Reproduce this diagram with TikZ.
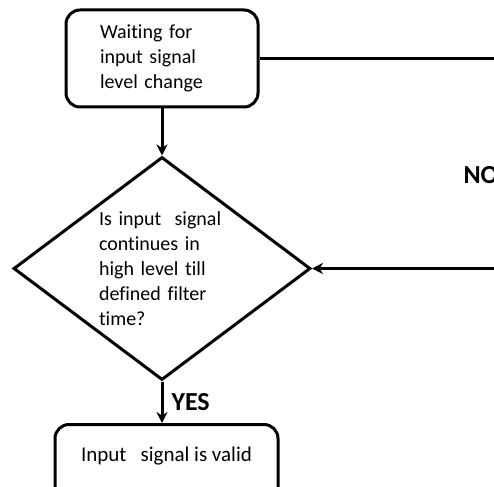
\documentclass[tikz,border=0pt]{standalone}
\usepackage{fontspec}
\setmainfont{Carlito}[Ligatures=CommonOff]
\usetikzlibrary{shapes,arrows.meta,positioning}

\begin{document}
\begin{tikzpicture}[x=1pt, y=-1pt, line width=3pt,
  font=\fontsize{20}{25}\selectfont,
  box/.style={draw, rectangle, rounded corners=14pt, align=left},
  decision/.style={draw, diamond, aspect=1.33, inner sep=0pt, align=left},
  flow/.style={-{Stealth[length=11pt,width=11pt]}},
  answer/.style={font=\fontsize{26}{30}\selectfont\bfseries, inner sep=0pt, anchor=base west}]
\clip (0,0) rectangle (494,486);

% waiting state
\node[box, minimum width=192pt, minimum height=97pt, text width=124pt] (wait) at (162,58.5) {Waiting for\\input signal\\level change};

% filter check
\node[decision, minimum width=297pt, minimum height=223pt, text width=126pt] (check) at (162,268.5) {Is input\ \ signal\\continues in\\high level till\\defined filter\\time?};

% valid state
\node[box, minimum width=223pt, inner ysep=0pt, text height=37pt, text depth=40pt, anchor=north, font=\fontsize{21}{26}\selectfont] (valid) at (166.5,423) {Input\ \ \ signal is valid};

% free ends on the right
\coordinate (topright) at (500,58.5);
\coordinate (midright) at (500,268.5);

% connectors
\draw[flow] (wait) -- (check);
\draw[flow] (check.south) -- (check.south |- valid.north);
\draw (wait.east) -- (topright);
\draw[flow] (midright) -- (check.east);

% answers
\node[answer] (no) at (462,183) {NO};
\node[answer] (yes) at (170,410) {YES};
\end{tikzpicture}
\end{document}
